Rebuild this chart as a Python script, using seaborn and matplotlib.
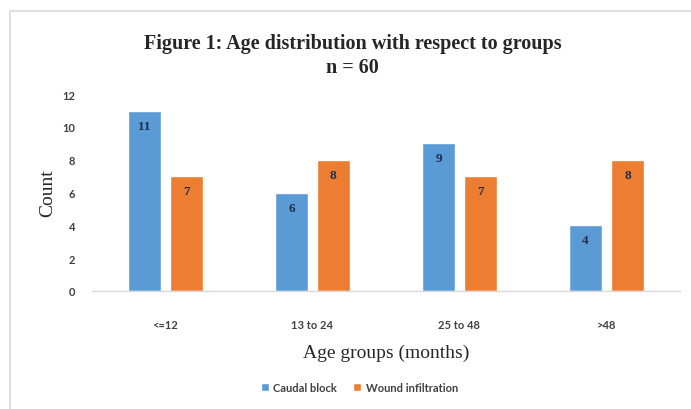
import matplotlib
matplotlib.use("Agg")
import matplotlib.pyplot as plt
import seaborn as sns
import pandas as pd
from matplotlib.patches import Rectangle

# Age distribution counts per group
age_groups = ["<=12", "13 to 24", "25 to 48", ">48"]
caudal_block = [11, 6, 9, 4]
wound_infiltration = [7, 8, 7, 8]
series_names = ["Caudal block", "Wound infiltration"]
y_ticks = [0, 2, 4, 6, 8, 10, 12]

df = pd.DataFrame({
    "Age group": age_groups * 2,
    "Count": caudal_block + wound_infiltration,
    "Group": [series_names[0]] * len(age_groups) + [series_names[1]] * len(age_groups),
})

sns.set_style("white")
plt.rcParams["font.family"] = ["Liberation Serif", "DejaVu Serif"]

fig = plt.figure(figsize=(6.91, 4.10), dpi=100)
ax = fig.add_axes([0.133, 0.288, 0.851, 0.480])

# outer chart frame
fig.patches.append(Rectangle((10 / 691, -0.1), 1.2, (410 - 12) / 410 + 0.1,
                             transform=fig.transFigure, fill=False,
                             edgecolor="#d9d9d9", linewidth=1.2))

palette = {series_names[0]: "#5B9BD5", series_names[1]: "#ED7D31"}
sns.barplot(data=df, x="Age group", y="Count", hue="Group", order=age_groups,
            hue_order=series_names, palette=palette, width=0.57, gap=0.21,
            saturation=1, ax=ax, legend=True)

ax.set_ylim(0, 12)
ax.set_yticks(y_ticks)
ax.set_yticklabels([str(t) for t in y_ticks], family="Lato", fontweight="bold",
                   fontsize=8, color="#404040")
ax.set_xticks(range(len(age_groups)))
ax.set_xticklabels(age_groups, family="Lato", fontweight="bold", fontsize=8,
                   color="#404040")
ax.tick_params(axis="both", length=0, pad=12)
ax.tick_params(axis="x", pad=20)

for side in ["top", "right", "left"]:
    ax.spines[side].set_visible(False)
ax.spines["bottom"].set_color("#d9d9d9")
ax.spines["bottom"].set_linewidth(1.0)

# value labels just inside the bar tops
for container in ax.containers:
    for bar in container:
        h = bar.get_height()
        ax.text(bar.get_x() + bar.get_width() / 2, h - 0.55, f"{int(h)}",
                ha="center", va="top", fontsize=9.5, fontweight="bold",
                family="Liberation Serif", color="#1f2f4a")

ax.set_xlabel("Age groups (months)", fontsize=14, color="#262626", labelpad=10)
ax.set_ylabel("Count", fontsize=14, color="#262626", labelpad=4)

fig.text(0.51, 0.893, "Figure 1: Age distribution with respect to groups",
         ha="center", va="center", fontsize=14.5, fontweight="bold", color="#262626")
fig.text(0.51, 0.833, "n = 60", ha="center", va="center", fontsize=14.5,
         fontweight="bold", color="#262626")

handles, labels = ax.get_legend_handles_labels()
ax.get_legend().remove()
fig.legend(handles, labels, loc="center", bbox_to_anchor=(0.52, 0.053), ncol=2,
           frameon=False, handlelength=0.7, handleheight=0.7, handletextpad=0.4,
           columnspacing=1.5, prop={"family": "Lato", "weight": "bold", "size": 8})
for t in fig.legends[0].get_texts():
    t.set_color("#404040")

fig.savefig("out.png", dpi=100)
